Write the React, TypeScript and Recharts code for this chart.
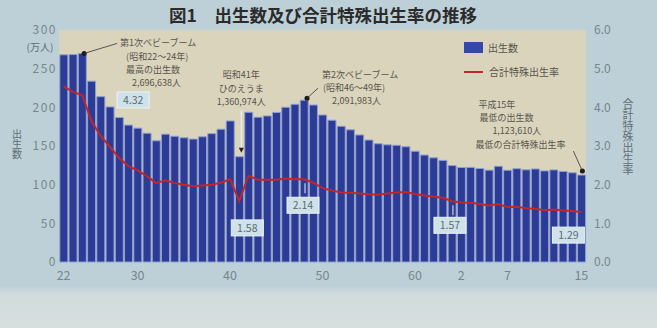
import {
  ComposedChart,
  Bar,
  Line,
  XAxis,
  YAxis,
  CartesianGrid,
  ReferenceDot,
} from "recharts";

// 昭和22年(1947)～平成15年(2003)
const years = [
  1947, 1948, 1949, 1950, 1951, 1952, 1953, 1954, 1955, 1956,
  1957, 1958, 1959, 1960, 1961, 1962, 1963, 1964, 1965, 1966,
  1967, 1968, 1969, 1970, 1971, 1972, 1973, 1974, 1975, 1976,
  1977, 1978, 1979, 1980, 1981, 1982, 1983, 1984, 1985, 1986,
  1987, 1988, 1989, 1990, 1991, 1992, 1993, 1994, 1995, 1996,
  1997, 1998, 1999, 2000, 2001, 2002, 2003,
];

// 出生数（万人）
const births = [
  267.9, 268.2, 269.7, 233.8, 213.8, 200.5, 186.8, 177.0, 173.1, 166.5,
  156.7, 165.3, 162.6, 160.6, 158.9, 161.9, 166.0, 171.7, 182.4, 136.1,
  193.6, 187.2, 188.9, 193.4, 200.1, 203.9, 209.2, 203.0, 190.1, 183.3,
  175.5, 170.9, 164.3, 157.7, 152.9, 151.5, 150.9, 149.0, 143.2, 138.3,
  134.7, 131.4, 124.7, 122.2, 122.3, 120.9, 118.8, 123.8, 118.7, 120.7,
  119.2, 120.3, 117.8, 119.1, 117.1, 115.4, 112.4,
];

// 合計特殊出生率
const fertility = [
  4.54, 4.4, 4.32, 3.65, 3.26, 2.98, 2.69, 2.48, 2.37, 2.22,
  2.04, 2.11, 2.04, 2.0, 1.96, 1.98, 2.0, 2.05, 2.14, 1.58,
  2.23, 2.13, 2.13, 2.13, 2.16, 2.14, 2.14, 2.05, 1.91, 1.85,
  1.8, 1.79, 1.77, 1.75, 1.74, 1.77, 1.8, 1.81, 1.76, 1.72,
  1.69, 1.66, 1.57, 1.54, 1.53, 1.5, 1.46, 1.5, 1.42, 1.43,
  1.39, 1.38, 1.34, 1.36, 1.33, 1.32, 1.29,
];

const birthTicks = [0, 50, 100, 150, 200, 250, 300];
const rateTicks = [0, 1, 2, 3, 4, 5, 6];
const yearTicks = [1947, 1955, 1965, 1975, 1985, 1990, 1995, 2003];

const data = years.map((year, i) => ({
  year,
  births: births[i],
  rate: fertility[i],
}));

// 西暦 -> 昭和/平成の年
const eraYear = (y: number) => String(y >= 1989 ? y - 1988 : y - 1925);

const font = '"Noto Sans CJK JP", "Noto Sans", sans-serif';
const noteColor = "#56544c";
const tickColor = "#76868d";
const barColor = "#2c3b96";
const lineColor = "#c2252a";

const noteText = (x: number, y: number, s: string, anchor = "start") => (
  <text
    x={x}
    y={y}
    fontSize={9}
    fill={noteColor}
    fontFamily={font}
    textAnchor={anchor}
  >
    {s}
  </text>
);

const valueBox = (dx: number, dy: number, s: string, tick = 0) => (p: any) => {
  const { cx, cy } = p;
  const bx = cx + dx;
  const by = cy + dy;
  return (
    <g>
      {tick > 0 && (
        <line x1={cx + 1} y1={cy + 4} x2={cx + 1} y2={cy + 4 + tick} stroke="#e8eef0" strokeWidth={1} />
      )}
      <rect x={bx - 16} y={by - 8} width={32} height={16} fill="#cfe2ea" stroke="#eaf3f6" strokeWidth={1} />
      <text x={bx} y={by + 4} fontSize={10.5} fill="#5d6c72" textAnchor="middle" fontFamily={font}>
        {s}
      </text>
    </g>
  );
};

const firstBoom = (p: any) => {
  const { cx, cy } = p;
  return (
    <g>
      <circle cx={cx + 2} cy={cy} r={2.5} fill="#1c1c1c" />
      <line x1={cx + 2} y1={cy} x2={cx + 35} y2={cy - 10} stroke="#333" strokeWidth={0.8} />
      {noteText(cx + 38, cy - 7, "第1次ベビーブーム")}
      {noteText(cx + 44, cy + 7, "(昭和22～24年)")}
      {noteText(cx + 44, cy + 20, "最高の出生数")}
      {noteText(cx + 50, cy + 33, "2,696,638人")}
    </g>
  );
};

const hinoeuma = (p: any) => {
  const { cx, cy } = p;
  const x = cx + 2;
  return (
    <g>
      <line x1={x} y1={cy - 46} x2={x} y2={cy - 5} stroke="#f4f4f0" strokeWidth={1} />
      <polygon points={`${x - 2.5},${cy - 9} ${x + 2.5},${cy - 9} ${x},${cy - 4}`} fill="#222" />
      {noteText(cx + 2, cy - 79, "昭和41年", "middle")}
      {noteText(cx + 2, cy - 65, "ひのえうま", "middle")}
      {noteText(cx + 2, cy - 52, "1,360,974人", "middle")}
    </g>
  );
};

const secondBoom = (p: any) => {
  const { cx, cy } = p;
  return (
    <g>
      <circle cx={cx + 3} cy={cy - 2} r={2.5} fill="#1c1c1c" />
      <line x1={cx + 3} y1={cy - 2} x2={cx + 14} y2={cy - 12} stroke="#333" strokeWidth={0.8} />
      {noteText(cx + 18, cy - 22, "第2次ベビーブーム")}
      {noteText(cx + 19, cy - 9, "(昭和46～49年)")}
      {noteText(cx + 28, cy + 4, "2,091,983人")}
    </g>
  );
};

const lowest = (p: any) => {
  const { cx, cy } = p;
  return (
    <g>
      <circle cx={cx + 1} cy={cy - 4} r={2.5} fill="#1c1c1c" />
      <line x1={cx + 1} y1={cy - 4} x2={cx - 8} y2={cy - 24} stroke="#333" strokeWidth={0.8} />
      {noteText(cx - 103, cy - 67, "平成15年")}
      {noteText(cx - 102, cy - 54, "最低の出生数")}
      {noteText(cx - 89, cy - 41, "1,123,610人")}
      {noteText(cx - 106, cy - 27, "最低の合計特殊出生率")}
    </g>
  );
};

// 縦書きの軸ラベル
const vertical = (x: number, y: number, s: string, size: number) => (
  <text
    x={x}
    y={y}
    fontSize={size}
    fill="#5f6e74"
    fontFamily={font}
    style={{ writingMode: "vertical-rl" }}
  >
    {s}
  </text>
);

export default function App() {
  return (
    <div
      style={{
        position: "absolute",
        left: 0,
        top: 0,
        width: 657,
        height: 328,
        background:
          "linear-gradient(to bottom, #bdd0d7 0%, #bdd0d7 87%, #d3dcdd 90%, #d6dede 100%)",
        fontFamily: font,
      }}
    >
      <ComposedChart
        width={657}
        height={328}
        data={data}
        margin={{ top: 30, right: 31, bottom: 36, left: 19 }}
        barCategoryGap="9%"
      >
        <CartesianGrid horizontal={false} vertical={false} fill="#dbd4bd" />
        <XAxis
          dataKey="year"
          ticks={yearTicks}
          tickFormatter={eraYear}
          interval={0}
          height={30}
          axisLine={false}
          tickLine={false}
          tickSize={0}
          tickMargin={9}
          tick={{ fill: tickColor, fontSize: 12.5, fontFamily: font }}
        />
        <YAxis
          yAxisId="left"
          domain={[0, 300]}
          ticks={birthTicks}
          width={40}
          axisLine={false}
          tickLine={false}
          tickSize={0}
          tickMargin={2}
          tick={{ fill: tickColor, fontSize: 12, fontFamily: font, letterSpacing: 1.5 }}
        />
        <YAxis
          yAxisId="right"
          orientation="right"
          domain={[0, 6]}
          ticks={rateTicks}
          tickFormatter={(v: number) => v.toFixed(1)}
          width={40}
          axisLine={false}
          tickLine={false}
          tickSize={0}
          tickMargin={8}
          tick={{ fill: tickColor, fontSize: 12, fontFamily: font }}
        />
        <Bar
          yAxisId="left"
          dataKey="births"
          fill={barColor}
          stroke="#8e9fcf"
          strokeWidth={1}
          isAnimationActive={false}
        />
        <Line
          yAxisId="right"
          dataKey="rate"
          type="linear"
          stroke={lineColor}
          strokeWidth={2}
          dot={false}
          isAnimationActive={false}
        />
        <ReferenceDot yAxisId="left" x={1949} y={births[2]} ifOverflow="visible" shape={firstBoom} />
        <ReferenceDot yAxisId="left" x={1966} y={births[19]} ifOverflow="visible" shape={hinoeuma} />
        <ReferenceDot yAxisId="left" x={1973} y={births[26]} ifOverflow="visible" shape={secondBoom} />
        <ReferenceDot yAxisId="left" x={2003} y={births[56]} ifOverflow="visible" shape={lowest} />
        <ReferenceDot yAxisId="right" x={1949} y={fertility[2]} ifOverflow="visible" shape={valueBox(51, 5, "4.32")} />
        <ReferenceDot yAxisId="right" x={1966} y={fertility[19]} ifOverflow="visible" shape={valueBox(8, 27, "1.58")} />
        <ReferenceDot yAxisId="right" x={1973} y={fertility[26]} ifOverflow="visible" shape={valueBox(-1, 26, "2.14", 10)} />
        <ReferenceDot yAxisId="right" x={1989} y={fertility[42]} ifOverflow="visible" shape={valueBox(-2, 24, "1.57", 10)} />
        <ReferenceDot yAxisId="right" x={2003} y={fertility[56]} ifOverflow="visible" shape={valueBox(-13, 23, "1.29")} />
      </ComposedChart>
      <svg
        width={657}
        height={328}
        style={{ position: "absolute", left: 0, top: 0, pointerEvents: "none" }}
      >
        <text
          x={323}
          y={22}
          fontSize={17.5}
          fontWeight="bold"
          fill="#2b2b2b"
          textAnchor="middle"
          fontFamily={font}
        >
          図1　出生数及び合計特殊出生率の推移
        </text>
        <text x={40} y={51} fontSize={10} fill="#5f6e74" textAnchor="middle" fontFamily={font}>
          (万人)
        </text>
        {vertical(17, 129, "出生数", 10)}
        {vertical(628, 98, "合計特殊出生率", 11)}
        <g>
          <rect x={464} y={42} width={19} height={11} fill="#3348a8" />
          <text x={488} y={52} fontSize={10} fill={noteColor} fontFamily={font}>
            出生数
          </text>
          <line x1={464} y1={72} x2={483} y2={72} stroke={lineColor} strokeWidth={2} />
          <text x={489} y={76} fontSize={10} fill={noteColor} fontFamily={font}>
            合計特殊出生率
          </text>
        </g>
      </svg>
    </div>
  );
}
